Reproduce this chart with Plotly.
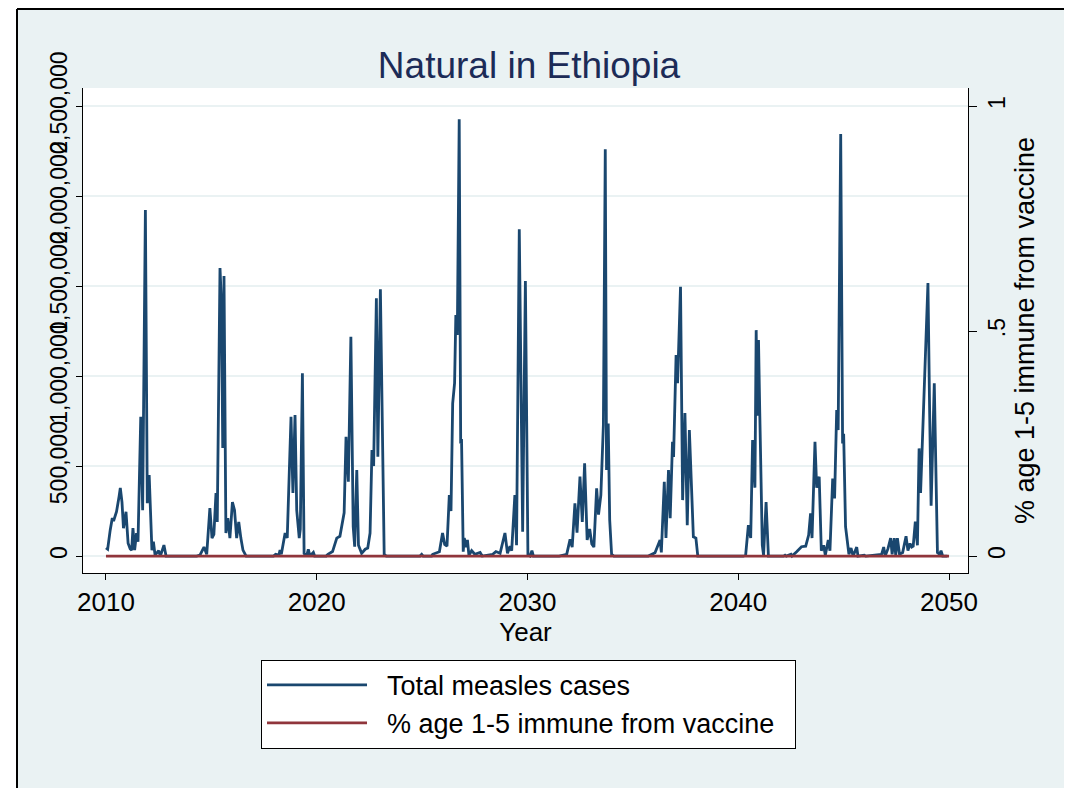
import plotly.graph_objects as go

# weekly-ish readings of the simulated case series (year, cases)
year = [
    2010.00, 2010.08, 2010.20, 2010.30, 2010.36, 2010.50, 2010.62, 2010.68, 2010.76, 2010.83,
    2010.95, 2011.05, 2011.15, 2011.22, 2011.28, 2011.36, 2011.45, 2011.52, 2011.65, 2011.74,
    2011.87, 2011.96, 2012.05, 2012.18, 2012.25, 2012.33, 2012.50, 2012.58, 2012.75, 2012.85,
    2014.30, 2014.46, 2014.65, 2014.78, 2014.93, 2015.03, 2015.12, 2015.22, 2015.28, 2015.41,
    2015.48, 2015.54, 2015.60, 2015.69, 2015.78, 2015.88, 2016.00, 2016.10, 2016.20, 2016.30,
    2016.40, 2016.50, 2016.65, 2017.95, 2018.05, 2018.20, 2018.26, 2018.32, 2018.50, 2018.60,
    2018.78, 2018.87, 2018.97, 2019.05, 2019.17, 2019.22, 2019.32, 2019.40, 2019.52, 2019.60,
    2019.68, 2019.84, 2019.90, 2020.45, 2020.53, 2020.75, 2020.95, 2021.10, 2021.30, 2021.39,
    2021.50, 2021.62, 2021.73, 2021.80, 2021.90, 2021.98, 2022.13, 2022.30, 2022.42, 2022.53,
    2022.62, 2022.70, 2022.83, 2022.90, 2023.02, 2023.11, 2023.20, 2023.30, 2024.90, 2024.98,
    2025.05, 2025.45, 2025.50, 2025.82, 2025.97, 2026.07, 2026.18, 2026.29, 2026.37, 2026.45,
    2026.54, 2026.60, 2026.67, 2026.76, 2026.83, 2026.87, 2026.95, 2027.00, 2027.10, 2027.15,
    2027.22, 2027.35, 2027.50, 2027.75, 2027.85, 2028.35, 2028.50, 2028.70, 2028.93, 2029.05,
    2029.17, 2029.25, 2029.40, 2029.48, 2029.61, 2029.77, 2029.90, 2030.02, 2030.12, 2030.21,
    2030.28, 2031.50, 2031.86, 2032.02, 2032.12, 2032.25, 2032.35, 2032.49, 2032.60, 2032.71,
    2032.83, 2032.95, 2033.05, 2033.15, 2033.28, 2033.37, 2033.48, 2033.60, 2033.69, 2033.75,
    2033.83, 2033.90, 2033.99, 2034.10, 2035.73, 2036.05, 2036.29, 2036.35, 2036.49, 2036.57,
    2036.69, 2036.77, 2036.88, 2036.93, 2037.05, 2037.12, 2037.26, 2037.36, 2037.47, 2037.58,
    2037.68, 2037.87, 2037.99, 2038.08, 2040.24, 2040.35, 2040.48, 2040.59, 2040.68, 2040.79,
    2040.85, 2040.90, 2040.96, 2041.02, 2041.14, 2041.20, 2041.32, 2041.43, 2042.15, 2042.22,
    2042.28, 2042.50, 2042.55, 2042.77, 2043.00, 2043.20, 2043.34, 2043.43, 2043.50, 2043.64,
    2043.72, 2043.84, 2043.94, 2044.05, 2044.13, 2044.27, 2044.35, 2044.48, 2044.57, 2044.67,
    2044.74, 2044.86, 2044.95, 2045.00, 2045.09, 2045.25, 2045.35, 2045.45, 2045.62, 2045.68,
    2045.98, 2046.05, 2046.80, 2046.90, 2046.97, 2047.10, 2047.23, 2047.30, 2047.40, 2047.47,
    2047.55, 2047.65, 2047.80, 2047.96, 2048.05, 2048.15, 2048.23, 2048.30, 2048.40, 2048.50,
    2048.58, 2048.65, 2048.75, 2048.88, 2049.00, 2049.08, 2049.15, 2049.30, 2049.45, 2049.55,
    2049.62, 2049.70, 2049.92,
]
cases = [
    45000, 38000, 144000, 211000, 195000, 246000, 330000, 378000, 300000, 155000,
    246000, 72000, 40000, 33000, 155000, 33000, 128000, 80000, 774000, 255000,
    1922000, 294000, 450000, 33000, 80000, 5000, 30000, 0, 61000, 0,
    0, 5000, 50000, 10000, 266000, 100000, 120000, 350000, 190000, 1600000,
    1400000, 600000, 1556000, 128000, 211000, 100000, 300000, 255000, 100000, 190000,
    100000, 33000, 0, 0, 10000, 5000, 33000, 10000, 128000, 100000,
    774000, 350000, 783000, 255000, 100000, 150000, 1016000, 15000, 0, 38000,
    0, 20000, 0, 0, 10000, 25000, 100000, 110000, 240000, 663000,
    413000, 1218000, 163000, 52000, 478000, 60000, 15000, 38000, 45000, 128000,
    589000, 500000, 1432000, 552000, 1482000, 628000, 10000, 0, 0, 10000,
    0, 0, 10000, 24000, 128000, 65000, 55000, 339000, 250000, 848000,
    960000, 1339000, 1228000, 2426000, 626000, 650000, 24000, 100000, 50000, 90000,
    5000, 30000, 10000, 20000, 0, 10000, 25000, 15000, 128000, 15000,
    55000, 30000, 339000, 60000, 1815000, 135000, 1528000, 5000, 0, 30000,
    0, 0, 10000, 93000, 50000, 293000, 130000, 441000, 190000, 515000,
    89000, 150000, 67000, 50000, 376000, 230000, 339000, 728000, 2260000, 478000,
    737000, 200000, 10000, 0, 0, 18000, 89000, 20000, 413000, 100000,
    478000, 210000, 635000, 550000, 1117000, 960000, 1496000, 311000, 794000, 172000,
    700000, 107000, 100000, 0, 0, 5000, 172000, 100000, 644000, 380000,
    1255000, 780000, 1200000, 800000, 61000, 5000, 300000, 0, 0, 5000,
    0, 10000, 0, 24000, 52000, 55000, 117000, 237000, 100000, 635000,
    380000, 441000, 30000, 60000, 5000, 89000, 30000, 431000, 320000, 811000,
    700000, 2345000, 626000, 680000, 163000, 10000, 45000, 0, 50000, 0,
    5000, 0, 10000, 50000, 0, 40000, 100000, 10000, 100000, 5000,
    100000, 10000, 20000, 110000, 30000, 70000, 50000, 55000, 191000, 60000,
    598000, 350000, 700000, 1100000, 1517000, 800000, 280000, 960000, 20000, 10000,
    30000, 0, 0,
]

# vaccine coverage (share of ages 1-5) stays at zero in this scenario
vacc_year = [2010, 2050]
vacc_share = [0, 0]

case_ticks = [0, 500000, 1000000, 1500000, 2000000, 2500000]
case_labels = ["0", "500,000", "1,000,000", "1,500,000", "2,000,000", "2,500,000"]
share_ticks = [0, 0.5, 1]
share_labels = ["0", ".5", "1"]
year_ticks = [2010, 2020, 2030, 2040, 2050]

NAVY = "#1a476f"
MAROON = "#90353b"
BG = "#eaf2f3"
FONT = "Liberation Sans Narrow, Arial Narrow, Liberation Sans, Arial, sans-serif"
PAD = "\u00a0"

fig = go.Figure()
fig.add_trace(go.Scatter(
    x=year, y=cases, name=PAD * 2 + "Total measles cases", mode="lines",
    line=dict(color=NAVY, width=2.8),
))
fig.add_trace(go.Scatter(
    x=vacc_year, y=vacc_share, name=PAD * 2 + "% age 1-5 immune from vaccine" + PAD * 2, mode="lines",
    line=dict(color=MAROON, width=2.8), yaxis="y2",
))

# page has an 8px body margin, so the plot box sits at figure x 75-960, y 80-565
fig.update_layout(
    width=1064, height=780,
    margin=dict(l=75, r=104, t=80, b=215),
    paper_bgcolor=BG, plot_bgcolor="white",
    font=dict(family=FONT, color="black"),
    title=dict(
        text="Natural in Ethiopia", xref="paper", x=0.504, xanchor="center",
        y=1 - 57 / 780, yanchor="middle",
        font=dict(family=FONT, size=37, color="#1c2b57"),
    ),
    xaxis=dict(
        range=[2008.91, 2050.9], tickvals=year_ticks,
        ticks="outside", ticklen=6, tickcolor="black",
        showline=True, linecolor="black", linewidth=1,
        showgrid=False, zeroline=False,
        tickfont=dict(size=26),
        title=dict(text="Year", font=dict(size=26), standoff=0),
    ),
    yaxis=dict(
        range=[-94000, 2600000], tickvals=case_ticks, ticktext=case_labels,
        tickangle=-90, ticks="outside", ticklen=6, tickcolor="black",
        showline=True, linecolor="black", linewidth=1,
        showgrid=True, gridcolor=BG, gridwidth=2, zeroline=False,
        tickfont=dict(size=23),
    ),
    yaxis2=dict(
        overlaying="y", side="right", range=[-0.0377, 1.04],
        tickvals=share_ticks, ticktext=share_labels,
        tickangle=-90, ticks="outside", ticklen=8, tickcolor="black",
        showline=True, linecolor="black", linewidth=1,
        showgrid=False, zeroline=False,
        tickfont=dict(size=23),
        title=dict(text="% age 1-5 immune from vaccine", font=dict(size=27), standoff=0),
    ),
    legend=dict(
        x=0.5034, xanchor="center", y=-0.179, yanchor="top",
        bgcolor="white", bordercolor="black", borderwidth=1,
        font=dict(size=27), itemwidth=100, tracegroupgap=0,
    ),
    showlegend=True,
)

# white page strip and thin black frame round the graph region
px0, plot_w, py0, plot_h = 75, 885, 565, 485
fig.add_shape(type="rect", xref="paper", yref="paper", layer="above",
              x0=-px0 / plot_w, x1=(9 - px0) / plot_w, y0=(py0 - 780) / plot_h, y1=py0 / plot_h,
              fillcolor="white", line=dict(width=0))
frame = dict(type="line", xref="paper", yref="paper", line=dict(color="black", width=2))
fig.add_shape(x0=(9 - px0) / plot_w, x1=(9 - px0) / plot_w,
              y0=(py0 - 780) / plot_h, y1=(py0 - 1) / plot_h, **frame)
fig.add_shape(x0=(9 - px0) / plot_w, x1=(1064 - px0) / plot_w,
              y0=(py0 - 1) / plot_h, y1=(py0 - 1) / plot_h, **frame)

fig.write_html("out.html")
